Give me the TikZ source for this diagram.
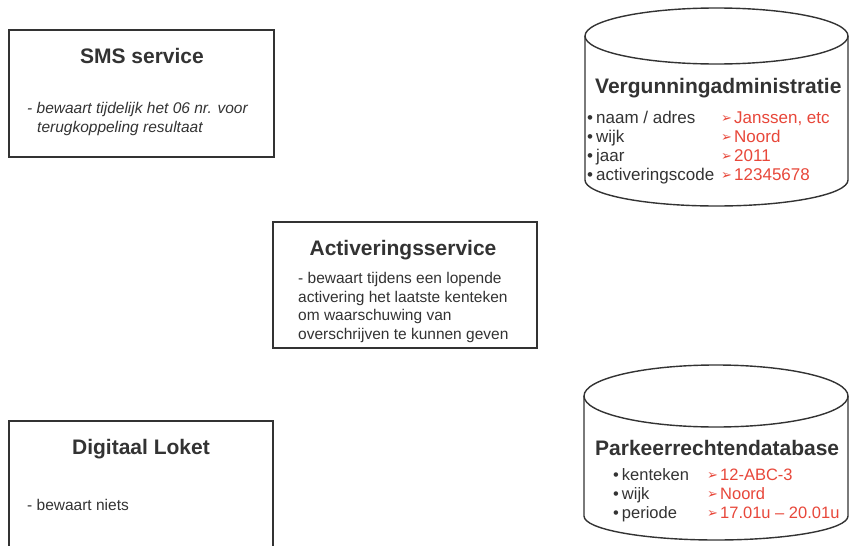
\documentclass[tikz,border=0pt]{standalone}
\usepackage{fontspec}
\setmainfont{Liberation Sans}
\newfontfamily\symfont{DejaVu Sans}
\definecolor{dark}{HTML}{333333}
\definecolor{redtxt}{HTML}{E8473A}
\begin{document}
\begin{tikzpicture}[x=1pt,y=-1pt,
  boxline/.style={draw=dark,line width=1.4pt},
  cyl/.style={draw=dark,line width=1.4pt},
  ttl/.style={inner sep=0pt,anchor=base,text=dark,font=\bfseries\fontsize{21}{25}\selectfont},
  ttlw/.style={inner sep=0pt,anchor=base west,text=dark,font=\bfseries\fontsize{21}{25}\selectfont},
  body/.style={inner sep=0pt,anchor=base west,text=dark,font=\fontsize{15.5}{19}\selectfont},
  bodyit/.style={inner sep=0pt,anchor=base west,text=dark,font=\itshape\fontsize{15.5}{19}\selectfont},
  rowa/.style={inner sep=0pt,anchor=base west,text=dark,font=\fontsize{17}{19}\selectfont},
  reda/.style={inner sep=0pt,anchor=base west,text=redtxt,font=\fontsize{17}{19}\selectfont},
  rowb/.style={inner sep=0pt,anchor=base west,text=dark,font=\fontsize{16.5}{19}\selectfont},
  redb/.style={inner sep=0pt,anchor=base west,text=redtxt,font=\fontsize{16.5}{19}\selectfont},
  arr/.style={inner sep=0pt,anchor=base west,text=redtxt,font=\symfont\fontsize{13}{15}\selectfont},
]
\clip (0,0) rectangle (849,546);
\fill[white] (0,0) rectangle (849,546);

% SMS service
\draw[boxline] (9,30) rectangle (274,157);
\node[ttl] (smst) at (142,63) {SMS service};
\node[bodyit] (sms1) at (27,113) {- bewaart tijdelijk het 06 nr. voor};
\node[bodyit] (sms2) at (37,132) {terugkoppeling resultaat};

% Activeringsservice
\draw[boxline] (273,222) rectangle (537,348);
\node[ttl] (actt) at (403,255) {Activeringsservice};
\node[body] (act1) at (298,283) {- bewaart tijdens een lopende};
\node[body] (act2) at (298,302) {activering het laatste kenteken};
\node[body] (act3) at (298,320.5) {om waarschuwing van};
\node[body] (act4) at (298,339) {overschrijven te kunnen geven};

% Digitaal Loket
\draw[boxline] (9,421) rectangle (273,570);
\node[ttl] (dlt) at (141,454) {Digitaal Loket};
\node[body] (dl1) at (27,510) {- bewaart niets};

% Vergunningadministratie cylinder
\draw[cyl] (585,36) -- (585,180) arc[start angle=180,end angle=360,x radius=131.5pt,y radius=26pt] -- (848,36);
\draw[cyl] (716.5,36) ellipse[x radius=131.5pt,y radius=28pt];
\node[ttlw] (vat) at (595,93) {Vergunningadministratie};
\node[rowa] (va1) at (587,123) {•\hspace{3pt}naam / adres};
\node[rowa] (va2) at (587,142) {•\hspace{3pt}wijk};
\node[rowa] (va3) at (587,161) {•\hspace{3pt}jaar};
\node[rowa] (va4) at (587,180) {•\hspace{3pt}activeringscode};
\node[arr] (vr1a) at (721,122) {➢};
\node[arr] (vr2a) at (721,141) {➢};
\node[arr] (vr3a) at (721,160) {➢};
\node[arr] (vr4a) at (721,179) {➢};
\node[reda] (vr1) at (734,123) {Janssen, etc};
\node[reda] (vr2) at (734,142) {Noord};
\node[reda] (vr3) at (734,161) {2011};
\node[reda] (vr4) at (734,180) {12345678};

% Parkeerrechtendatabase cylinder
\draw[cyl] (584,396) -- (584,516) arc[start angle=180,end angle=360,x radius=132pt,y radius=24pt] -- (848,396);
\draw[cyl] (716,396) ellipse[x radius=132pt,y radius=31pt];
\node[ttlw] (pdt) at (595,455) {Parkeerrechtendatabase};
\node[rowb] (pd1) at (613,480) {•\hspace{3pt}kenteken};
\node[rowb] (pd2) at (613,499) {•\hspace{3pt}wijk};
\node[rowb] (pd3) at (613,518) {•\hspace{3pt}periode};
\node[arr] (pr1a) at (707,479) {➢};
\node[arr] (pr2a) at (707,498) {➢};
\node[arr] (pr3a) at (707,517) {➢};
\node[redb] (pr1) at (720,480) {12-ABC-3};
\node[redb] (pr2) at (720,499) {Noord};
\node[redb] (pr3) at (720,518) {17.01u – 20.01u};
\end{tikzpicture}
\end{document}
